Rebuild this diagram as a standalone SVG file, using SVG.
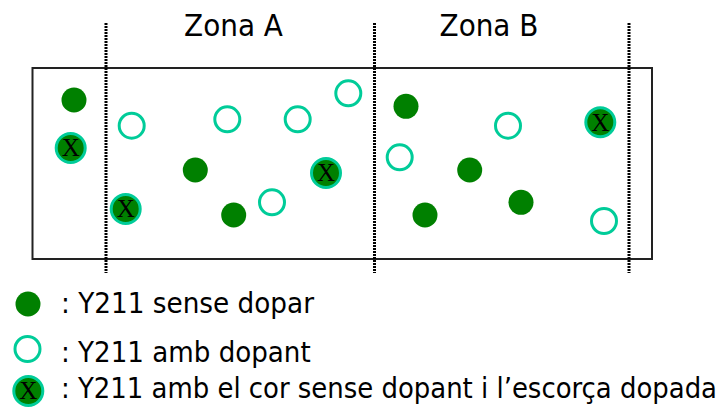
<svg xmlns="http://www.w3.org/2000/svg" width="722" height="407" viewBox="0 0 722 407">
<style>
.t{font-family:"DejaVu Sans Condensed","DejaVu Sans",sans-serif;font-stretch:condensed;fill:#000}
.f{fill:#008000}
.h{fill:#fff;stroke:#00cc99;stroke-width:3}
.x{fill:#008000;stroke:#00cc99;stroke-width:3}
.xl{font-family:"Liberation Serif",serif;font-size:25px;fill:#000;text-anchor:middle}
.d{stroke:#000;stroke-width:3;stroke-dasharray:2 1;fill:none}
</style>
<rect id="box" x="32.5" y="68" width="619.5" height="191" fill="#fff" stroke="#222" stroke-width="2"/>
<g id="dividers">
<line class="d" x1="106" y1="23" x2="106" y2="273"/>
<line class="d" x1="374.5" y1="23" x2="374.5" y2="273"/>
<line class="d" x1="629" y1="23" x2="629" y2="273"/>
</g>
<text class="t" x="233.5" y="36" font-size="31" text-anchor="middle">Zona A</text>
<text class="t" x="489" y="36" font-size="31" text-anchor="middle">Zona B</text>
<g id="undoped">
<circle class="f" cx="74" cy="100" r="12.5"/>
<circle class="f" cx="195.3" cy="170" r="12.5"/>
<circle class="f" cx="233.7" cy="215" r="12.5"/>
<circle class="f" cx="406" cy="106.3" r="12.5"/>
<circle class="f" cx="469.7" cy="170" r="12.5"/>
<circle class="f" cx="425" cy="215" r="12.5"/>
<circle class="f" cx="521" cy="202.3" r="12.5"/>
</g>
<g id="doped">
<circle class="h" cx="131.7" cy="125.7" r="12.5"/>
<circle class="h" cx="227.3" cy="119.3" r="12.5"/>
<circle class="h" cx="297.7" cy="119.3" r="12.5"/>
<circle class="h" cx="348.3" cy="93.3" r="12.5"/>
<circle class="h" cx="272" cy="202.3" r="12.5"/>
<circle class="h" cx="508" cy="125.7" r="12.5"/>
<circle class="h" cx="399.7" cy="157.3" r="12.5"/>
<circle class="h" cx="604" cy="221" r="12.5"/>
</g>
<g id="coreshell">
<circle class="x" cx="70.7" cy="148" r="14.5"/><text class="xl" x="70.7" y="156.3">X</text>
<circle class="x" cx="125.7" cy="209" r="14.5"/><text class="xl" x="125.7" y="217.3">X</text>
<circle class="x" cx="326" cy="173" r="14.5"/><text class="xl" x="326" y="181.3">X</text>
<circle class="x" cx="600.3" cy="122.3" r="14.5"/><text class="xl" x="600.3" y="130.6">X</text>
</g>
<g id="legend">
<circle class="f" cx="28" cy="304" r="12.5"/>
<text class="t" x="61" y="313.3" font-size="29" textLength="253" lengthAdjust="spacingAndGlyphs">: Y211 sense dopar</text>
<circle class="h" cx="27.5" cy="349" r="12.5"/>
<text class="t" x="61" y="361.7" font-size="29" textLength="249.7" lengthAdjust="spacingAndGlyphs">: Y211 amb dopant</text>
<circle class="x" cx="28.3" cy="391" r="14.5"/><text class="xl" x="28.3" y="399.3">X</text>
<text class="t" x="61" y="398" font-size="29" textLength="656" lengthAdjust="spacingAndGlyphs">: Y211 amb el cor sense dopant i l’escorça dopada</text>
</g>
</svg>
